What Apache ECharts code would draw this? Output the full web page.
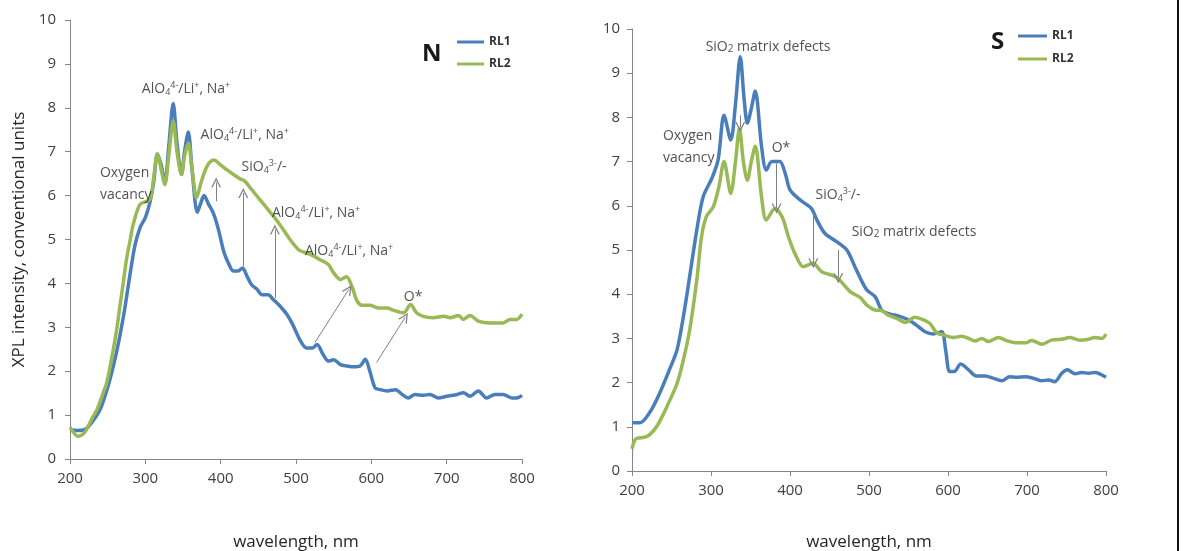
<!DOCTYPE html>
<html>
<head>
<meta charset="utf-8">
<script src="https://cdn.jsdelivr.net/npm/echarts@6/dist/echarts.min.js"></script>
<style>
html,body{margin:0;padding:0;background:#fff;}
#c{width:1184px;height:551px;}
</style>
</head>
<body>
<div id="c"></div>
<script>
// ---------- DATA ----------
const seriesNames = ['RL1', 'RL2'];
const panelTitles = ['N', 'S'];
const xTicks = [200, 300, 400, 500, 600, 700, 800];
const yTicks = [0, 1, 2, 3, 4, 5, 6, 7, 8, 9, 10];

// Panel N, RL1
const nRL1_wl  = [200,210,218,227,240,252,262,271,280,286,293,300,306,311,316,321,326,331,337,342,348,352,357,362,369,373,378,384,390,397,404,410,417,423,429,435,441,448,455,463,470,479,488,496,505,514,522,528,536,543,550,559,568,576,585,592,598,605,612,621,632,641,649,658,669,678,689,700,714,722,731,742,753,764,775,787,793,800];
const nRL1_val = [0.66,0.65,0.66,0.79,1.13,1.75,2.45,3.25,4.24,4.85,5.27,5.5,5.84,6.3,6.95,6.7,6.3,7.1,8.1,7.2,6.48,7.0,7.45,6.6,5.62,5.8,6.0,5.8,5.61,5.23,4.73,4.47,4.28,4.28,4.35,4.16,3.97,3.87,3.74,3.74,3.63,3.48,3.29,3.05,2.72,2.53,2.53,2.61,2.38,2.23,2.26,2.15,2.12,2.10,2.12,2.27,2.0,1.62,1.58,1.55,1.58,1.47,1.39,1.47,1.45,1.47,1.39,1.43,1.47,1.51,1.43,1.55,1.39,1.47,1.47,1.39,1.39,1.45];
// Panel N, RL2
const nRL2_wl  = [200,205,210,216,222,230,236,244,249,257,262,266,271,275,280,284,293,306,311,316,321,326,331,337,342,348,352,357,362,368,374,380,385,391,399,408,417,426,432,441,452,461,472,483,492,499,505,519,532,543,550,559,567,574,581,588,598,609,621,629,643,652,660,669,682,696,705,716,722,731,742,758,775,784,793,800];
const nRL2_val = [0.72,0.6,0.52,0.55,0.67,0.95,1.13,1.5,1.75,2.45,2.95,3.45,4.05,4.55,5.0,5.35,5.8,5.92,6.4,6.95,6.6,6.25,6.9,7.7,7.0,6.48,6.9,7.2,6.6,5.95,6.3,6.6,6.75,6.81,6.71,6.59,6.48,6.38,6.33,6.14,5.91,5.72,5.49,5.23,5.0,4.85,4.75,4.66,4.54,4.43,4.24,4.09,4.15,3.94,3.6,3.5,3.5,3.44,3.44,3.39,3.33,3.52,3.33,3.25,3.22,3.25,3.22,3.27,3.18,3.27,3.14,3.10,3.10,3.18,3.18,3.3];
// Panel S, RL1
const sRL1_wl  = [200,210,223,235,248,257,265,273,282,290,301,309,316.5,325,331,337,342,346,351,356,364,370,377,387,394,400,413,427,434,444,459,472,484,497,508,516,527,537,550,560,571,581,592,597,602,608,616,626,636,647,657,668,678,687,697,708,719,727,735,744,751,761,769,778,786,800];
const sRL1_val = [1.09,1.09,1.34,1.76,2.32,2.74,3.49,4.4,5.45,6.2,6.62,7.04,8.05,7.49,8.3,9.37,8.4,7.87,8.2,8.6,7.34,6.81,7.0,7.0,6.73,6.36,6.13,5.94,5.68,5.38,5.19,5.0,4.55,4.1,3.94,3.64,3.55,3.51,3.42,3.30,3.15,3.10,3.15,2.74,2.25,2.25,2.42,2.29,2.15,2.15,2.10,2.04,2.13,2.12,2.13,2.10,2.04,2.06,2.02,2.21,2.29,2.2,2.23,2.21,2.23,2.12];
// Panel S, RL2
const sRL2_wl  = [200,203,206,219,231,244,257,265,273,282,288,294,303,310,316.5,325,331,336,341,346,351,356,364,370,381,390,398,406,417,429,440,459,476,489,497,508,516,524,535,546,558,569,577,586,594,607,617,626,634,643,651,664,674,687,698,706,719,731,744,754,767,778,786,795,800];
const sRL2_val = [0.5,0.68,0.74,0.78,1.0,1.45,1.98,2.51,3.19,4.32,5.3,5.75,5.98,6.43,7.0,6.28,7.0,7.75,7.0,6.58,7.0,7.35,6.2,5.68,5.94,5.75,5.3,4.93,4.62,4.70,4.51,4.38,4.06,3.92,3.76,3.64,3.63,3.53,3.45,3.36,3.48,3.42,3.34,3.12,3.08,3.02,3.05,3.0,2.94,3.0,2.93,3.02,2.95,2.9,2.9,2.95,2.87,2.96,2.98,3.02,2.96,2.98,3.02,3.0,3.1];

// Annotations: [wavelength, value, text, anchor]
const ALO = '{n|AlO}{sub|4}{sup|4-}{n|/Li}{sup|+}{n|, Na}{sup|+}';
const SIO4 = '{n|SiO}{sub|4}{sup|3-}{n|/-}';
const SIO2 = '{n|SiO}{s2|2}{n| matrix defects}';
const nNotes = [
  [354, 8.42, ALO, 'center'],
  [432, 7.39, ALO, 'center'],
  [457.6, 6.66, SIO4, 'center'],
  [239.8, 6.26, '{n|Oxygen}\n{n|vacancy}', 'left'],
  [526.7, 5.61, ALO, 'center'],
  [570.5, 4.73, ALO, 'center'],
  [655.5, 3.68, '{n|O*}', 'center']
];
const sNotes = [
  [372.2, 9.59, SIO2, 'center'],
  [239.2, 7.33, '{n|Oxygen}\n{n|vacancy}', 'left'],
  [388.6, 7.31, '{n|O*}', 'center'],
  [460.8, 6.24, SIO4, 'center'],
  [557, 5.41, SIO2, 'center']
];
// Arrows: [x1, y1, x2, y2] in data units
const nArrows = [
  [394, 5.87, 394, 6.3],
  [430, 4.39, 430, 6.06],
  [472, 3.67, 472, 5.23],
  [525, 2.65, 570, 3.86],
  [607, 2.2, 645, 3.23]
];
const sArrows = [
  [337, 8.05, 337, 7.78],
  [383, 6.96, 383, 5.94],
  [429.5, 5.9, 429.5, 4.7],
  [461, 5.0, 461, 4.36]
];

// ---------- CHART ----------
const BLUE = '#4a7ebb', GREEN = '#98b954';
const FONT = 'Open Sans';
const zip = (a, b) => a.map((x, i) => [x, b[i]]);
const richStyles = {
  n:   {fontSize: 14, color: '#262626', fontFamily: FONT, lineHeight: 22, verticalAlign: 'middle'},
  sub: {fontSize: 9, color: '#262626', fontFamily: FONT, lineHeight: 22, verticalAlign: 'bottom', padding: [0,0,3,0]},
  sup: {fontSize: 9, color: '#262626', fontFamily: FONT, lineHeight: 22, verticalAlign: 'top', padding: [3,0,0,0]},
  s2:  {fontSize: 10, color: '#262626', fontFamily: FONT, lineHeight: 22, verticalAlign: 'bottom', padding: [0,0,4,0]}
};

function axisX(gi, gap) {
  return {
    type: 'value', gridIndex: gi, min: 200, max: 800, interval: 100,
    name: 'wavelength, nm', nameLocation: 'middle', nameGap: gap,
    nameTextStyle: {fontSize: 17, color: '#262626', fontFamily: FONT},
    axisLine: {show: true, lineStyle: {color: '#868686', width: 1}},
    axisTick: {show: true, length: 5, lineStyle: {color: '#868686'}},
    axisLabel: {fontSize: 15, color: '#404040', fontFamily: FONT, margin: 12},
    splitLine: {show: false}
  };
}
function axisY(gi, name, margin) {
  return {
    type: 'value', gridIndex: gi, min: 0, max: 10, interval: 1,
    name: name, nameLocation: 'middle', nameGap: 42,
    nameTextStyle: {fontSize: 17, color: '#262626', fontFamily: FONT},
    axisLine: {show: true, lineStyle: {color: '#868686', width: 1}},
    axisTick: {show: true, length: 5, lineStyle: {color: '#868686'}},
    axisLabel: {fontSize: 15, color: '#404040', fontFamily: FONT, margin: margin},
    splitLine: {show: false}
  };
}
function lineSeries(name, color, gi, wl, val, arrows) {
  const s = {
    name: name, type: 'line', xAxisIndex: gi, yAxisIndex: gi,
    data: zip(wl, val), showSymbol: false, symbol: 'none', smooth: 0.3,
    lineStyle: {color: color, width: 3.5}, itemStyle: {color: color},
    z: name === 'RL2' ? 3 : 2
  };
  if (arrows) {
    s.markLine = {
      silent: true, animation: false,
      symbol: ['none', 'path://M0,10 L5,0 L10,10 L8.6,10 L5,2.8 L1.4,10 Z'],
      symbolSize: [10, 10],
      lineStyle: {color: '#808080', width: 1, type: 'solid'},
      label: {show: false},
      emphasis: {disabled: true},
      data: arrows.map(a => [{coord: [a[0], a[1]]}, {coord: [a[2], a[3]]}])
    };
  }
  return s;
}
function noteSeries(gi, notes) {
  return {
    name: 'notes' + gi, type: 'scatter', xAxisIndex: gi, yAxisIndex: gi,
    symbolSize: 0, silent: true, z: 10,
    data: notes.map(n => ({value: [n[0], n[1]], label: {align: n[3]}})),
    label: {
      show: true, position: 'inside',
      formatter: p => notes[p.dataIndex][2],
      rich: richStyles
    }
  };
}

const chart = echarts.init(document.getElementById('c'), null, {renderer: 'canvas'});
chart.setOption({
  animation: false,
  backgroundColor: '#fff',
  textStyle: {fontFamily: FONT},
  grid: [
    {left: 70, top: 20, width: 452, height: 439, outerBoundsMode: 'none', containLabel: false},
    {left: 632, top: 29, width: 474, height: 442, outerBoundsMode: 'none', containLabel: false}
  ],
  title: [
    {text: panelTitles[0], left: 417, top: 37, textStyle: {fontSize: 24, fontWeight: 'bold', color: '#1a1a1a', fontFamily: FONT}},
    {text: panelTitles[1], left: 986, top: 25, textStyle: {fontSize: 24, fontWeight: 'bold', color: '#1a1a1a', fontFamily: FONT}}
  ],
  legend: [
    {left: 452, top: 31, orient: 'vertical', itemWidth: 27, itemHeight: 3, itemGap: 10, icon: 'rect',
     textStyle: {fontSize: 12, fontWeight: 'bold', color: '#333', fontFamily: FONT}, data: seriesNames},
    {left: 1013, top: 25, orient: 'vertical', itemWidth: 29, itemHeight: 3, itemGap: 11, icon: 'rect',
     textStyle: {fontSize: 12, fontWeight: 'bold', color: '#333', fontFamily: FONT}, data: seriesNames}
  ],
  xAxis: [axisX(0, 75), axisX(1, 63)],
  yAxis: [axisY(0, 'XPL intensity, conventional units', 14), axisY(1, '', 12)],
  series: [
    lineSeries('RL1', BLUE, 0, nRL1_wl, nRL1_val, nArrows),
    lineSeries('RL2', GREEN, 0, nRL2_wl, nRL2_val, null),
    lineSeries('RL1', BLUE, 1, sRL1_wl, sRL1_val, sArrows),
    lineSeries('RL2', GREEN, 1, sRL2_wl, sRL2_val, null),
    noteSeries(0, nNotes),
    noteSeries(1, sNotes)
  ],
  graphic: [
    {type: 'rect', shape: {x: 1177, y: 0, width: 2, height: 551}, style: {fill: '#111'}, silent: true}
  ]
});
</script>
</body>
</html>
